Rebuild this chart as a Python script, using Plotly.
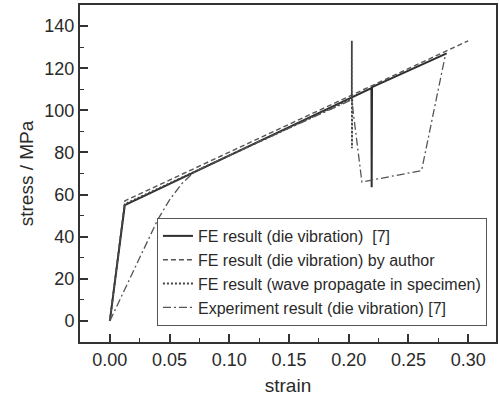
import plotly.graph_objects as go

# FE result (die vibration) [7] - solid
fe_x = [0.0, 0.0125, 0.2190, 0.2192, 0.2195, 0.282]
fe_y = [0.0, 55.0, 110.5, 63.5, 111.0, 127.0]

# FE result (die vibration) by author - dashed
au_x = [0.0, 0.0125, 0.300]
au_y = [0.0, 57.0, 133.0]

# FE result (wave propagate in specimen) - dotted
wv_x = [0.0, 0.0125, 0.2025, 0.2026, 0.2027, 0.2028, 0.2029, 0.2030]
wv_y = [0.0, 55.5, 105.5, 133.0, 82.0, 128.0, 88.0, 106.0]

# Experiment result (die vibration) [7] - dash-dot
ex_x = [0.0, 0.02, 0.04, 0.05, 0.06, 0.07, 0.08, 0.15, 0.2025, 0.211, 0.261, 0.281]
ex_y = [0.0, 24.0, 48.0, 57.5, 65.0, 70.5, 73.5, 91.5, 105.0, 66.0, 71.4, 126.5]

names = [
    "FE result (die vibration)  [7]",
    "FE result (die vibration) by author",
    "FE result (wave propagate in specimen)",
    "Experiment result (die vibration) [7]",
]

x_ticks = [0.0, 0.05, 0.10, 0.15, 0.20, 0.25, 0.30]
x_labels = ["0.00", "0.05", "0.10", "0.15", "0.20", "0.25", "0.30"]
y_ticks = [0, 20, 40, 60, 80, 100, 120, 140]

fig = go.Figure()
fig.add_trace(go.Scatter(x=fe_x, y=fe_y, mode="lines", name=names[0],
                         line=dict(color="#2e2e2e", width=2, dash="solid")))
fig.add_trace(go.Scatter(x=au_x, y=au_y, mode="lines", name=names[1],
                         line=dict(color="#555555", width=1.4, dash="5px,3px")))
fig.add_trace(go.Scatter(x=wv_x, y=wv_y, mode="lines", name=names[2],
                         line=dict(color="#444444", width=1.8, dash="2px,2px")))
fig.add_trace(go.Scatter(x=ex_x, y=ex_y, mode="lines", name=names[3],
                         line=dict(color="#555555", width=1.3, dash="8px,3px,2px,3px")))

font = "Liberation Sans, Arial, sans-serif"
fig.update_layout(
    width=500, height=401,
    margin=dict(l=80, r=2, t=5, b=59),
    paper_bgcolor="white", plot_bgcolor="white",
    font=dict(family=font, size=18, color="#2a2a2a"),
    showlegend=True,
    legend=dict(x=0.185, y=0.368, xanchor="left", yanchor="top",
                bordercolor="#555555", borderwidth=1, bgcolor="white",
                font=dict(family=font, size=16, color="#2a2a2a"),
                tracegroupgap=0),
    xaxis=dict(range=[-0.025, 0.3233], tickmode="array",
               tickvals=x_ticks, ticktext=x_labels,
               ticks="inside", ticklen=8, tickwidth=1.5, tickcolor="#333333",
               minor=dict(dtick=0.025, tick0=0, ticks="inside", ticklen=4,
                          tickwidth=1.2, tickcolor="#333333"),
               showline=True, linecolor="#333333", linewidth=2, mirror=True,
               showgrid=False, zeroline=False,
               title=dict(text="strain", font=dict(size=19), standoff=10)),
    yaxis=dict(range=[-10, 150], tickmode="array", tickvals=y_ticks,
               ticks="inside", ticklen=8, tickwidth=1.5, tickcolor="#333333",
               minor=dict(dtick=10, tick0=0, ticks="inside", ticklen=4,
                          tickwidth=1.2, tickcolor="#333333"),
               showline=True, linecolor="#333333", linewidth=2, mirror=True,
               showgrid=False, zeroline=False, ticklabelstandoff=0,
               title=dict(text="stress / MPa", font=dict(size=19), standoff=6)),
)

fig.write_html("out.html")
